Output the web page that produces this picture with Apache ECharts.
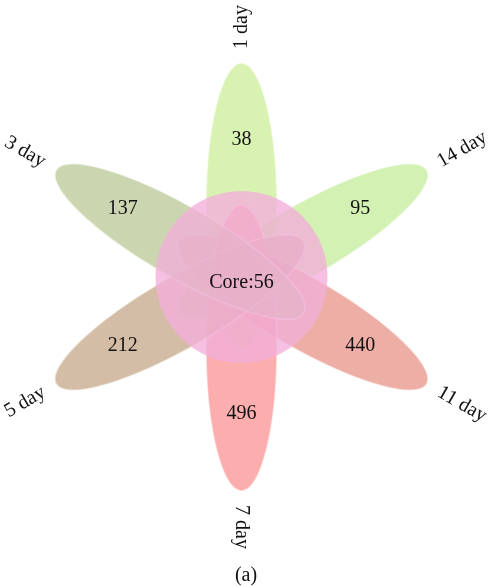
<!DOCTYPE html>
<html>
<head>
<meta charset="utf-8">
<script src="https://cdn.jsdelivr.net/npm/echarts@6/dist/echarts.min.js"></script>
<style>html,body{margin:0;padding:0;background:#fff}#c{width:492px;height:586px}</style>
</head>
<body>
<div id="c"></div>
<script>
// ---- data ----
var setNames = ['1 day', '14 day', '11 day', '7 day', '5 day', '3 day'];
var setCounts = [38, 95, 440, 496, 212, 137];
var setAngles = [90, 30, -30, -90, -150, 150];
var coreName = 'Core';
var coreCount = 56;
var panelLabel = '(a)';
var petalColors = ['#c6ec8e', '#bdea8e', '#e5897a', '#fb8787', '#bf9d7c', '#b3c38c'];

var FONT = "'Liberation Serif','DejaVu Serif',serif";
var chart = echarts.init(document.getElementById('c'));

var PETAL_OFF = 71, RX = 143, RY = 35.5, CORE_R = 86, COUNT_D = 137, LABEL_D = 228;

var items = setNames.map(function (n, i) { return [setAngles[i], setCounts[i], i]; });

function rad(d) { return d * Math.PI / 180; }

chart.setOption({
  animation: false,
  title: {
    text: panelLabel, left: 'center', top: 561,
    textStyle: { fontFamily: FONT, fontSize: 20, fontWeight: 'normal', color: '#111' }
  },
  grid: { left: 0, right: 0, top: 0, bottom: 0 },
  xAxis: { type: 'value', min: -241.5, max: 250.5, show: false },
  yAxis: { type: 'value', min: -309, max: 277, show: false },
  series: [
    {
      type: 'custom', z: 1, data: items,
      renderItem: function (params, api) {
        var a = rad(api.value(0));
        var i = api.value(2);
        var c = api.coord([PETAL_OFF * Math.cos(a), PETAL_OFF * Math.sin(a)]);
        var s = api.size([RX, RY]);
        return {
          type: 'ellipse',
          x: c[0], y: c[1], rotation: a,
          shape: { cx: 0, cy: 0, rx: s[0], ry: s[1] },
          style: { fill: petalColors[i], opacity: 0.68, stroke: 'rgba(255,255,255,0.75)', lineWidth: 1.6 }
        };
      }
    },
    {
      type: 'custom', z: 2, data: [[0, 0, coreCount]],
      renderItem: function (params, api) {
        var c = api.coord([api.value(0), api.value(1)]);
        var r = api.size([CORE_R, CORE_R])[0];
        return {
          type: 'group',
          children: [
            { type: 'circle', shape: { cx: c[0], cy: c[1], r: r },
              style: { fill: 'rgba(243,176,217,0.8)' } },
            { type: 'text', x: c[0], y: c[1] + 6,
              style: { text: coreName + ':' + api.value(2), fontFamily: FONT, fontSize: 20,
                       fill: '#111', align: 'center', verticalAlign: 'middle' } }
          ]
        };
      }
    },
    {
      type: 'custom', z: 3, data: items,
      renderItem: function (params, api) {
        var deg = api.value(0);
        var a = rad(deg);
        var i = api.value(2);
        var cc = api.coord([COUNT_D * Math.cos(a), COUNT_D * Math.sin(a)]);
        var lc = api.coord([LABEL_D * Math.cos(a), LABEL_D * Math.sin(a)]);
        var left = Math.cos(a) < -0.01;
        return {
          type: 'group',
          children: [
            { type: 'text', x: cc[0], y: cc[1],
              style: { text: String(api.value(1)), fontFamily: FONT, fontSize: 20,
                       fill: '#111', align: 'center', verticalAlign: 'middle' } },
            { type: 'text', x: lc[0], y: lc[1], rotation: left ? a - Math.PI : a,
              style: { text: setNames[i], fontFamily: FONT, fontSize: 20,
                       fill: '#111', align: left ? 'right' : 'left', verticalAlign: 'middle' } }
          ]
        };
      }
    }
  ]
});
</script>
</body>
</html>
